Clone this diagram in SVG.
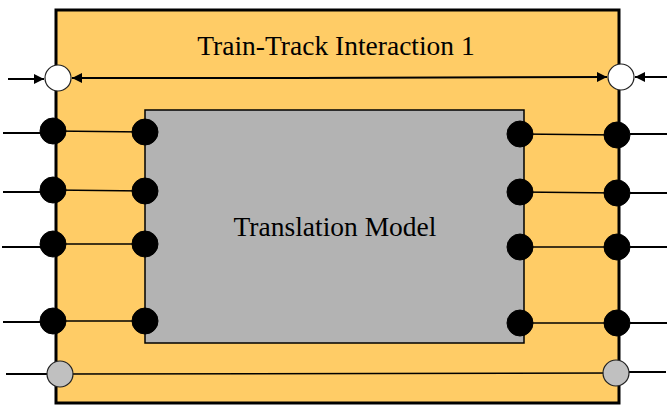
<svg xmlns="http://www.w3.org/2000/svg" width="667" height="406" viewBox="0 0 667 406">
<defs>
<style>
.ln{stroke:#000;stroke-width:2;fill:none}
.dot{fill:#000;stroke:#000;stroke-width:1}
.wp{fill:#fff;stroke:#222;stroke-width:1.2}
.gp{fill:#c0c0c0;stroke:#222;stroke-width:1.2}
.t{font-family:"Liberation Serif","Times New Roman",serif;font-size:27.5px;fill:#000;text-anchor:middle}
</style>
<marker id="ah" viewBox="0 0 10 10" refX="10" refY="5" markerWidth="10" markerHeight="10" markerUnits="userSpaceOnUse" orient="auto"><path d="M0,0 L10,5 L0,10 Z" fill="#000"/></marker>
</defs>
<g id="outer">
<rect x="56" y="10" width="563" height="393" fill="#ffcc66" stroke="#000" stroke-width="3"/>
<text class="t" x="336" y="55">Train-Track Interaction 1</text>
</g>
<g id="inner">
<rect x="145" y="110" width="379" height="233" fill="#b3b3b3" stroke="#000" stroke-width="1.5"/>
<text class="t" x="335" y="236">Translation Model</text>
</g>
<g id="connectors">
<line class="ln" x1="8" y1="79" x2="44" y2="79" marker-end="url(#ah)"/>
<line class="ln" x1="667" y1="77" x2="635" y2="77" marker-end="url(#ah)"/>
<line class="ln" x1="300" y1="78" x2="72" y2="78" marker-end="url(#ah)"/>
<line class="ln" x1="300" y1="78" x2="607" y2="77" marker-end="url(#ah)"/>
<line class="ln" x1="3" y1="133" x2="45" y2="133"/>
<line class="ln" x1="3" y1="192" x2="45" y2="192"/>
<line class="ln" x1="2" y1="247" x2="45" y2="247"/>
<line class="ln" x1="3" y1="322" x2="45" y2="322"/>
<line class="ln" x1="6" y1="374" x2="47" y2="374"/>
<line class="ln" x1="53" y1="131" x2="145" y2="132" style="stroke-width:1.5"/>
<line class="ln" x1="53" y1="190" x2="145" y2="191" style="stroke-width:1.5"/>
<line class="ln" x1="53" y1="244" x2="145" y2="244" style="stroke-width:1.5"/>
<line class="ln" x1="53" y1="321" x2="145" y2="321" style="stroke-width:1.5"/>
<line class="ln" x1="520" y1="134" x2="617" y2="135" style="stroke-width:1.5"/>
<line class="ln" x1="520" y1="192" x2="617" y2="193" style="stroke-width:1.5"/>
<line class="ln" x1="520" y1="247" x2="617" y2="247" style="stroke-width:1.5"/>
<line class="ln" x1="520" y1="323" x2="617" y2="323" style="stroke-width:1.5"/>
<line class="ln" x1="60" y1="374" x2="616" y2="373" style="stroke-width:1.5"/>
<line class="ln" x1="630" y1="134" x2="667" y2="134"/>
<line class="ln" x1="630" y1="193" x2="667" y2="193"/>
<line class="ln" x1="630" y1="247" x2="667" y2="247"/>
<line class="ln" x1="630" y1="323" x2="667" y2="323"/>
<line class="ln" x1="629" y1="372" x2="666" y2="372"/>
</g>
<g id="port-w-left"><circle class="wp" cx="58" cy="78" r="13"/></g>
<g id="port-w-right"><circle class="wp" cx="621" cy="77" r="13"/></g>
<g id="port-l1"><circle class="dot" cx="53" cy="131" r="13"/></g>
<g id="port-l2"><circle class="dot" cx="53" cy="190" r="13"/></g>
<g id="port-l3"><circle class="dot" cx="53" cy="244" r="13"/></g>
<g id="port-l4"><circle class="dot" cx="53" cy="321" r="13"/></g>
<g id="port-il1"><circle class="dot" cx="145" cy="132" r="13"/></g>
<g id="port-il2"><circle class="dot" cx="145" cy="191" r="13"/></g>
<g id="port-il3"><circle class="dot" cx="145" cy="244" r="13"/></g>
<g id="port-il4"><circle class="dot" cx="145" cy="321" r="13"/></g>
<g id="port-ir1"><circle class="dot" cx="520" cy="134" r="13"/></g>
<g id="port-ir2"><circle class="dot" cx="520" cy="192" r="13"/></g>
<g id="port-ir3"><circle class="dot" cx="520" cy="247" r="13"/></g>
<g id="port-ir4"><circle class="dot" cx="520" cy="323" r="13"/></g>
<g id="port-r1"><circle class="dot" cx="617" cy="135" r="13"/></g>
<g id="port-r2"><circle class="dot" cx="617" cy="193" r="13"/></g>
<g id="port-r3"><circle class="dot" cx="617" cy="247" r="13"/></g>
<g id="port-r4"><circle class="dot" cx="617" cy="323" r="13"/></g>
<g id="port-g-left"><circle class="gp" cx="60" cy="374" r="13"/></g>
<g id="port-g-right"><circle class="gp" cx="616" cy="373" r="13"/></g>
</svg>
